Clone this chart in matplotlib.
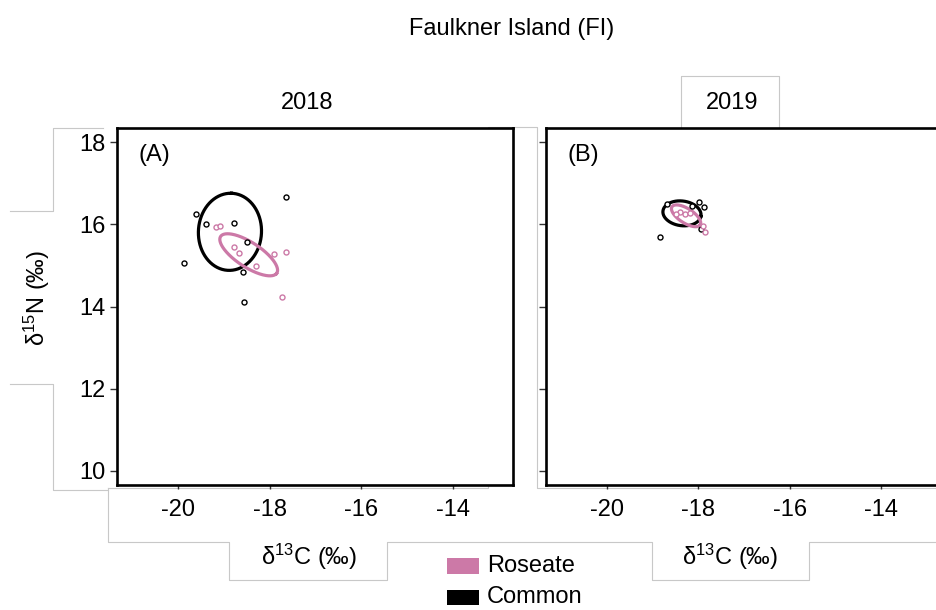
import numpy as np
import matplotlib.pyplot as plt
from matplotlib.lines import Line2D
from matplotlib.patches import Rectangle

plt.rcParams['font.family'] = ['Liberation Sans', 'DejaVu Sans']
plt.rcParams['mathtext.fontset'] = 'custom'
plt.rcParams['mathtext.rm'] = 'Liberation Sans'
plt.rcParams['mathtext.default'] = 'regular'
plt.rcParams['axes.unicode_minus'] = False

pink = '#cc79a7'

years = ['2018', '2019']
panel_tags = ['(A)', '(B)']
x_ticks = [-20, -18, -16, -14]
y_ticks = [10, 12, 14, 16, 18]

# isotope values
common_d13c_2018 = [-19.62, -19.39, -18.78, -17.65, -19.88, -18.50, -18.58, -18.56]
common_d15n_2018 = [16.26, 16.01, 16.04, 16.67, 15.05, 15.57, 14.85, 14.11]
roseate_d13c_2018 = [-19.18, -19.08, -18.78, -18.67, -18.30, -17.91, -17.64, -17.74]
roseate_d15n_2018 = [15.93, 15.96, 15.45, 15.30, 14.99, 15.28, 15.32, 14.24]

common_d13c_2019 = [-18.83, -17.99, -17.87, -17.95, -18.14, -18.68]
common_d15n_2019 = [15.70, 16.54, 16.43, 15.90, 16.45, 16.50]
roseate_d13c_2019 = [-18.40, -18.30, -18.19, -17.85, -17.90, -18.50]
roseate_d15n_2019 = [16.31, 16.26, 16.29, 15.82, 15.96, 16.26]

# standard ellipses: centre x, centre y, semi-axis a, semi-axis b, angle (deg)
common_ell_2018 = [-18.87, 15.82, 0.94, 0.69, 88]
roseate_ell_2018 = [-18.46, 15.26, 0.76, 0.29, -37]
common_ell_2019 = [-18.36, 16.27, 0.42, 0.30, -10]
roseate_ell_2019 = [-18.27, 16.21, 0.38, 0.17, -37]

panels = [
    (common_d13c_2018, common_d15n_2018, roseate_d13c_2018, roseate_d15n_2018,
     common_ell_2018, roseate_ell_2018),
    (common_d13c_2019, common_d15n_2019, roseate_d13c_2019, roseate_d15n_2019,
     common_ell_2019, roseate_ell_2019),
]


def ellipse_xy(e):
    cx, cy, a, b, ang = e
    t = np.linspace(0, 2 * np.pi, 300)
    th = np.radians(ang)
    x = cx + a * np.cos(t) * np.cos(th) - b * np.sin(t) * np.sin(th)
    y = cy + a * np.cos(t) * np.sin(th) + b * np.sin(t) * np.cos(th)
    return x, y


W, H = 936, 610
fig = plt.figure(figsize=(W / 100, H / 100), dpi=100)


def fx(px):
    return px / W


def fy(py):
    return 1 - py / H


lefts = [117, 545.7]
for i, (cx_, cy_, rx_, ry_, ce, re) in enumerate(panels):
    ax = fig.add_axes([fx(lefts[i]), fy(485), 396 / W, 357 / H])
    ax.scatter(cx_, cy_, s=13, facecolors='white', edgecolors='black', linewidths=1.0, zorder=3)
    ax.scatter(rx_, ry_, s=13, facecolors='white', edgecolors=pink, linewidths=1.0, zorder=3)
    x, y = ellipse_xy(ce)
    ax.plot(x, y, color='black', lw=2.3, zorder=2)
    x, y = ellipse_xy(re)
    ax.plot(x, y, color=pink, lw=2.3, zorder=2)
    ax.set_xlim(-21.34, -12.68)
    ax.set_ylim(9.65, 18.35)
    ax.set_xticks(x_ticks)
    ax.set_yticks(y_ticks)
    ax.tick_params(axis='both', labelsize=17, width=1, color='#333333')
    ax.tick_params(axis='x', length=3, pad=7)
    ax.tick_params(axis='y', length=5, pad=3)
    if i == 1:
        ax.tick_params(axis='y', labelleft=False)
    for s in ax.spines.values():
        s.set_linewidth(1.9)
    ax.text(0.055, 0.955, panel_tags[i], transform=ax.transAxes, fontsize=17,
            va='top', ha='left')

fig.text(fx(512), fy(29), 'Faulkner Island (FI)', fontsize=17, ha='center', va='center')
fig.text(fx(307), fy(103), years[0], fontsize=17, ha='center', va='center')
fig.text(fx(732), fy(103), years[1], fontsize=17, ha='center', va='center')
fig.text(fx(37), fy(298), 'δ$^{15}$N (‰)', fontsize=17, ha='center', va='center', rotation=90)
fig.text(fx(309), fy(557), 'δ$^{13}$C (‰)', fontsize=17, ha='center', va='center')
fig.text(fx(730), fy(557), 'δ$^{13}$C (‰)', fontsize=17, ha='center', va='center')

# legend
fig.add_artist(Rectangle((fx(447), fy(573.5)), 32 / W, 16 / H, transform=fig.transFigure,
                         facecolor=pink, edgecolor='none'))
fig.add_artist(Rectangle((fx(447), fy(604.5)), 32 / W, 15 / H, transform=fig.transFigure,
                         facecolor='black', edgecolor='none'))
fig.text(fx(487), fy(566), 'Roseate', fontsize=17, ha='left', va='center')
fig.text(fx(487), fy(597), 'Common', fontsize=17, ha='left', va='center')

# faint grey outlines of the pasted label boxes
grey_paths = [
    [(10, 210.7), (53.3, 210.7), (53.3, 128.3), (103, 128.3)],
    [(10, 384), (53.3, 384), (53.3, 490), (108.3, 490)],
    [(108.3, 488), (108.3, 541.7), (229.3, 541.7), (229.3, 580), (387.3, 580),
     (387.3, 541.7), (651.7, 541.7), (651.7, 580), (809.3, 580), (809.3, 541.7), (936, 541.7)],
    [(108.3, 488), (488.3, 488), (488.3, 126.7), (536.7, 126.7), (536.7, 488), (936, 488)],
    [(680.7, 128), (680.7, 76), (779.3, 76), (779.3, 128)],
]
for p in grey_paths:
    xs = [fx(a) for a, b in p]
    ys = [fy(b) for a, b in p]
    fig.add_artist(Line2D(xs, ys, transform=fig.transFigure, color='#c8c8c8', lw=0.8, zorder=0))

plt.savefig('out.png', dpi=100)
